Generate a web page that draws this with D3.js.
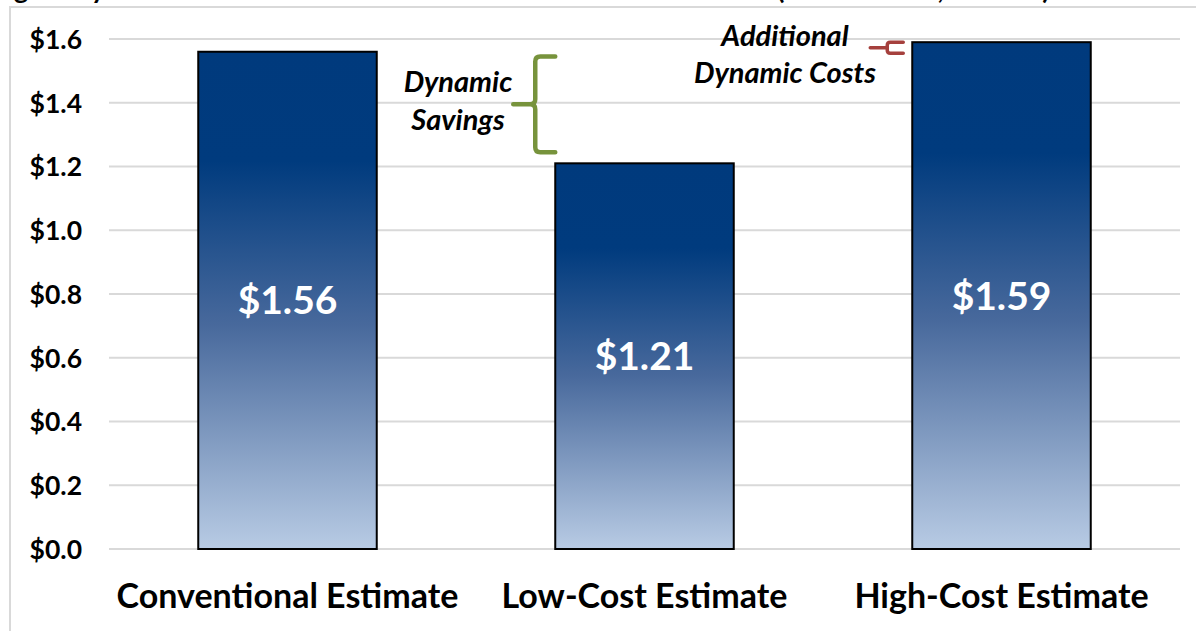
<!DOCTYPE html>
<html>
<head>
<meta charset="utf-8">
<script src="https://cdn.jsdelivr.net/npm/d3@7/dist/d3.min.js"></script>
<style>
  html, body { margin: 0; padding: 0; background: #fff; }
  svg { display: block; }
  text { font-family: Lato, "Open Sans", "Liberation Sans", sans-serif; }
</style>
</head>
<body>
<svg id="chart" width="1196" height="631"></svg>
<script>
// ---- data ----
const title = "Fig. 6: Dynamic Estimate of Revenue Loss from 10% Tax Rate Cut (10-Year Cost, Trillions)";
const categories = ["Conventional Estimate", "Low-Cost Estimate", "High-Cost Estimate"];
const values = [1.56, 1.21, 1.59];
const valueLabels = ["$1.56", "$1.21", "$1.59"];
const yTicks = [0, 0.2, 0.4, 0.6, 0.8, 1.0, 1.2, 1.4, 1.6];
const yTickLabels = ["$0.0", "$0.2", "$0.4", "$0.6", "$0.8", "$1.0", "$1.2", "$1.4", "$1.6"];
const savingsLabel = ["Dynamic", "Savings"];
const costsLabel = ["Additional", "Dynamic Costs"];
const savingsRange = [1.545, 1.245];   // brace extent (value units)
const costsRange = [1.59, 1.555];      // small bracket extent

// ---- layout ----
const svg = d3.select("#chart");
const W = 1196, H = 631;
const plot = { left: 109, right: 1180, top: 39, bottom: 549 };

const y = d3.scaleLinear().domain([0, 1.6]).range([plot.bottom, plot.top]);
const x = d3.scaleBand().domain(categories).range([plot.left, plot.right])
  .paddingInner(0.5).paddingOuter(0.25);

// gradient
const defs = svg.append("defs");
const grad = defs.append("linearGradient").attr("id", "barGrad")
  .attr("x1", 0).attr("y1", 0).attr("x2", 0).attr("y2", 1);
grad.append("stop").attr("offset", "0%").attr("stop-color", "#003a7d");
grad.append("stop").attr("offset", "22%").attr("stop-color", "#003b7e");
grad.append("stop").attr("offset", "55%").attr("stop-color", "#48699c");
grad.append("stop").attr("offset", "100%").attr("stop-color", "#b8cbe4");

// chart frame
svg.append("line").attr("x1", 9).attr("x2", W).attr("y1", 7).attr("y2", 7)
  .attr("stroke", "#d9d9d9").attr("stroke-width", 2);
svg.append("line").attr("x1", 10).attr("x2", 10).attr("y1", 7).attr("y2", H)
  .attr("stroke", "#d9d9d9").attr("stroke-width", 2);

// title (clipped at top, as in the reference)
svg.append("text").attr("x", -8).attr("y", -1)
  .attr("font-size", 27).attr("font-weight", "bold").attr("fill", "#000")
  .text(title);

// gridlines
svg.append("g").selectAll("line").data(yTicks).join("line")
  .attr("x1", plot.left).attr("x2", plot.right)
  .attr("y1", d => y(d)).attr("y2", d => y(d))
  .attr("stroke", "#d9d9d9").attr("stroke-width", 2);

// y axis labels
const yAxis = d3.axisLeft(y).tickValues(yTicks).tickSize(0).tickPadding(0)
  .tickFormat((d, i) => yTickLabels[i]);
const yg = svg.append("g").attr("transform", `translate(82,0)`).call(yAxis);
yg.select(".domain").remove();
yg.selectAll("text").attr("font-family", "Lato, sans-serif")
  .attr("font-size", 26.5).attr("font-weight", "bold").attr("fill", "#000")
  .attr("dy", "0.35em");

// bars
svg.append("g").selectAll("rect").data(values).join("rect")
  .attr("x", (d, i) => x(categories[i]))
  .attr("y", d => y(d))
  .attr("width", x.bandwidth())
  .attr("height", d => y(0) - y(d))
  .attr("fill", "url(#barGrad)")
  .attr("stroke", "#000").attr("stroke-width", 2);

// value labels
svg.append("g").selectAll("text").data(values).join("text")
  .attr("x", (d, i) => x(categories[i]) + x.bandwidth() / 2)
  .attr("y", d => (y(d) + y(0)) / 2)
  .attr("dy", "0.36em")
  .attr("text-anchor", "middle")
  .attr("font-size", 39).attr("font-weight", "bold").attr("fill", "#fff")
  .text((d, i) => valueLabels[i]);

// x axis labels
const xAxis = d3.axisBottom(x).tickSize(0).tickPadding(0);
const xg = svg.append("g").attr("transform", `translate(0,${plot.bottom})`).call(xAxis);
xg.select(".domain").remove();
xg.selectAll("text").attr("font-family", "Lato, sans-serif")
  .attr("font-size", 34).attr("font-weight", "bold").attr("fill", "#000")
  .attr("dy", 0).attr("y", 59);

// ---- annotations ----
// green brace (Dynamic Savings)
const bx = x(categories[1]) - 20;          // vertical line x
const bTop = y(savingsRange[0]), bBot = y(savingsRange[1]);
const bMid = (bTop + bBot) / 2;
const r = 5;
const brace = d3.path();
brace.moveTo(bx + 20, bTop);
brace.lineTo(bx + r, bTop);
brace.quadraticCurveTo(bx, bTop, bx, bTop + r);
brace.lineTo(bx, bMid - r);
brace.quadraticCurveTo(bx, bMid, bx - r, bMid);
brace.lineTo(bx - 22, bMid);
brace.moveTo(bx - r, bMid);
brace.quadraticCurveTo(bx, bMid, bx, bMid + r);
brace.lineTo(bx, bBot - r);
brace.quadraticCurveTo(bx, bBot, bx + r, bBot);
brace.lineTo(bx + 20, bBot);
svg.append("path").attr("d", brace.toString())
  .attr("fill", "none").attr("stroke", "#77933c").attr("stroke-width", 4.5)
  .attr("stroke-linecap", "round").attr("stroke-linejoin", "round");

svg.append("g").selectAll("text").data(savingsLabel).join("text")
  .attr("x", 458).attr("y", (d, i) => 92 + i * 38)
  .attr("text-anchor", "middle")
  .attr("font-size", 29).attr("font-style", "italic").attr("font-weight", "bold")
  .attr("fill", "#000").text(d => d);

// red bracket (Additional Dynamic Costs)
const cx = x(categories[2]) - 25;
const cTop = y(costsRange[0]), cBot = y(costsRange[1]);
const cMid = (cTop + cBot) / 2;
const r2 = 3;
const bracket = d3.path();
bracket.moveTo(cx + 16, cTop);
bracket.lineTo(cx + r2, cTop);
bracket.quadraticCurveTo(cx, cTop, cx, cTop + r2);
bracket.lineTo(cx, cBot - r2);
bracket.quadraticCurveTo(cx, cBot, cx + r2, cBot);
bracket.lineTo(cx + 16, cBot);
bracket.moveTo(cx, cMid);
bracket.lineTo(cx - 17, cMid);
svg.append("path").attr("d", bracket.toString())
  .attr("fill", "none").attr("stroke", "#a5403d").attr("stroke-width", 3.5)
  .attr("stroke-linecap", "round");

svg.append("g").selectAll("text").data(costsLabel).join("text")
  .attr("x", 785).attr("y", (d, i) => 46 + i * 37)
  .attr("text-anchor", "middle")
  .attr("font-size", 29).attr("font-style", "italic").attr("font-weight", "bold")
  .attr("fill", "#000").text(d => d);
</script>
</body>
</html>
